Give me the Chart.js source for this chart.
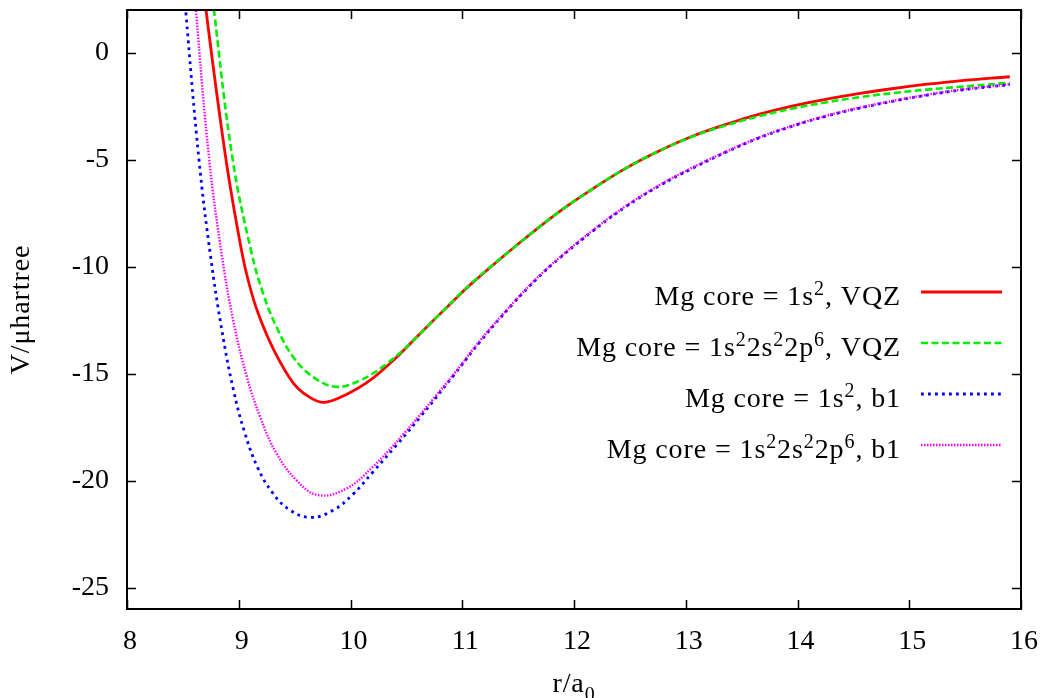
<!DOCTYPE html>
<html>
<head>
<meta charset="utf-8">
<script src="https://cdn.jsdelivr.net/npm/chart.js@4.4.1/dist/chart.umd.min.js"></script>
<style>
  body { margin: 0; background: #fff; }
</style>
</head>
<body>
<canvas id="potChart" width="1041" height="698"></canvas>
<script>
// Axis ticks
const xTicks = [8, 9, 10, 11, 12, 13, 14, 15, 16];
const yTicks = [0, -5, -10, -15, -20, -25];

// Mg core = 1s^2, VQZ
const rCore1Vqz = [8.657, 8.707, 8.886, 9.025, 9.09, 9.175, 9.31, 9.49, 9.64, 9.77, 9.96, 10.17, 10.41, 10.62, 10.92, 11.07, 11.5, 11.875, 12.17, 12.47, 12.77, 13.07, 13.37, 13.66, 13.96, 14.26, 14.56, 14.86, 15.16, 15.45, 15.9];
const vCore1Vqz = [4.5, 2.0, -5.0, -9.25, -10.75, -12.2, -13.85, -15.45, -16.12, -16.34, -15.98, -15.33, -14.24, -13.14, -11.6, -10.85, -8.94, -7.4, -6.35, -5.38, -4.57, -3.88, -3.33, -2.87, -2.48, -2.17, -1.9, -1.67, -1.47, -1.31, -1.12];

// Mg core = 1s^2 2s^2 2p^6, VQZ
const rCore2Vqz = [8.73, 8.778, 8.946, 9.11, 9.22, 9.34, 9.49, 9.67, 9.87, 10.08, 10.32, 10.56, 10.8, 11.07, 11.5, 11.875, 12.17, 12.47, 12.77, 13.07, 13.37, 13.66, 13.96, 14.26, 14.56, 14.86, 15.16, 15.45, 15.9];
const vCore2Vqz = [4.5, 2.0, -5.0, -9.25, -11.28, -12.84, -14.24, -15.17, -15.61, -15.33, -14.55, -13.46, -12.21, -10.83, -8.94, -7.4, -6.35, -5.38, -4.57, -3.9, -3.38, -2.96, -2.6, -2.31, -2.07, -1.88, -1.72, -1.59, -1.4];

// Mg core = 1s^2, b1
const rCore1B1 = [8.49, 8.525, 8.644, 8.75, 8.85, 8.95, 9.05, 9.17, 9.3, 9.45, 9.64, 9.84, 10.02, 10.2, 10.41, 10.62, 10.92, 11.16, 11.45, 11.7, 11.875, 12.17, 12.47, 12.77, 13.07, 13.37, 13.66, 13.96, 14.26, 14.56, 14.86, 15.16, 15.45, 15.9];
const vCore1B1 = [4.5, 2.0, -5.0, -9.6, -13.0, -15.7, -17.7, -19.4, -20.55, -21.35, -21.72, -21.4, -20.65, -19.6, -18.35, -17.05, -15.1, -13.5, -11.75, -10.4, -9.58, -8.32, -7.17, -6.2, -5.37, -4.62, -3.97, -3.42, -2.96, -2.58, -2.26, -1.98, -1.75, -1.49];

// Mg core = 1s^2 2s^2 2p^6, b1
const rCore2B1 = [8.585, 8.617, 8.736, 8.85, 8.95, 9.07, 9.19, 9.34, 9.52, 9.71, 9.96, 10.2, 10.47, 10.77, 10.95, 11.16, 11.45, 11.7, 11.875, 12.17, 12.47, 12.77, 13.07, 13.37, 13.66, 13.96, 14.26, 14.56, 14.86, 15.16, 15.45, 15.9];
const vCore2B1 = [4.5, 2.0, -5.0, -9.5, -12.5, -15.1, -17.0, -18.75, -20.0, -20.68, -20.38, -19.35, -17.85, -16.0, -14.85, -13.45, -11.72, -10.37, -9.55, -8.29, -7.14, -6.17, -5.34, -4.6, -3.95, -3.4, -2.94, -2.56, -2.24, -1.96, -1.73, -1.47];

// "^" raises and "_" lowers the next character
const seriesLabels = [
  'Mg core = 1s^2, VQZ',
  'Mg core = 1s^22s^22p^6, VQZ',
  'Mg core = 1s^2, b1',
  'Mg core = 1s^22s^22p^6, b1'
];
const xTitle = 'r/a_0';
const yTitle = 'V/\u03bchartree';

const FONT = '"Liberation Serif", "Times New Roman", serif';
const BIG = 28, SMALL = 20;

const styles = [
  { color: '#ff0000', width: 2.8, dash: [] },
  { color: '#00ee00', width: 2.6, dash: [7, 3.5] },
  { color: '#0000ff', width: 2.8, dash: [2.8, 4.2] },
  { color: '#ff00ff', width: 2.4, dash: [1.5, 1.5] }
];

function toPoints(xs, ys) {
  return xs.map((x, i) => ({ x: x, y: ys[i] }));
}

function parseRich(str) {
  const parts = [];
  let buf = '';
  for (let i = 0; i < str.length; i++) {
    const c = str[i];
    if ((c === '^' || c === '_') && i + 1 < str.length) {
      if (buf) parts.push({ text: buf, shift: 0 });
      parts.push({ text: str[i + 1], shift: c === '^' ? -10 : 9 });
      buf = '';
      i++;
    } else {
      buf += c;
    }
  }
  if (buf) parts.push({ text: buf, shift: 0 });
  return parts;
}

function drawRich(ctx, str, x, y, align) {
  const parts = parseRich(str);
  ctx.letterSpacing = '0.9px';
  const widths = parts.map(p => {
    ctx.font = (p.shift ? SMALL : BIG) + 'px ' + FONT;
    return ctx.measureText(p.text).width;
  });
  const total = widths.reduce((a, b) => a + b, 0);
  let cx = align === 'right' ? x - total : align === 'center' ? x - total / 2 : x;
  parts.forEach((p, i) => {
    ctx.font = (p.shift ? SMALL : BIG) + 'px ' + FONT;
    ctx.fillText(p.text, cx, y + p.shift);
    cx += widths[i];
  });
  ctx.letterSpacing = '0px';
}

// Frame, inward ticks on all sides, axis titles and the key
const framePlugin = {
  id: 'frame',
  afterDatasetsDraw(chart) {
    const ctx = chart.ctx;
    const a = chart.chartArea;
    const xs = chart.scales.x, ys = chart.scales.y;
    const tl = 9;
    ctx.save();
    ctx.strokeStyle = '#000';
    ctx.lineWidth = 1.5;
    ctx.beginPath();
    xTicks.forEach(v => {
      const px = Math.round(xs.getPixelForValue(v)) + 0.5;
      ctx.moveTo(px, a.bottom); ctx.lineTo(px, a.bottom - tl);
      ctx.moveTo(px, a.top); ctx.lineTo(px, a.top + tl);
    });
    yTicks.forEach(v => {
      const py = Math.round(ys.getPixelForValue(v)) + 0.5;
      ctx.moveTo(a.left, py); ctx.lineTo(a.left + tl, py);
      ctx.moveTo(a.right, py); ctx.lineTo(a.right - tl, py);
    });
    ctx.stroke();
    ctx.lineWidth = 2;
    ctx.strokeRect(a.left, a.top, a.right - a.left, a.bottom - a.top);

    // key
    ctx.fillStyle = '#000';
    ctx.textBaseline = 'alphabetic';
    ctx.textAlign = 'left';
    chart.data.datasets.forEach((ds, i) => {
      const rowY = a.top + 282 + i * 51;
      drawRich(ctx, seriesLabels[i], a.right - 120, rowY + 13, 'right');
      const st = styles[i];
      ctx.strokeStyle = st.color;
      ctx.lineWidth = st.width;
      ctx.setLineDash(st.dash);
      ctx.beginPath();
      ctx.moveTo(a.right - 100, rowY);
      ctx.lineTo(a.right - 19, rowY);
      ctx.stroke();
    });
    ctx.setLineDash([]);

    // axis titles
    drawRich(ctx, xTitle, (a.left + a.right) / 2, 692, 'center');
    ctx.translate(29, (a.top + a.bottom) / 2);
    ctx.rotate(-Math.PI / 2);
    drawRich(ctx, yTitle, 0, 0, 'center');
    ctx.restore();
  }
};

const seriesX = [rCore1Vqz, rCore2Vqz, rCore1B1, rCore2B1];
const seriesY = [vCore1Vqz, vCore2Vqz, vCore1B1, vCore2B1];

const datasets = seriesX.map((xs, i) => ({
  label: seriesLabels[i],
  data: toPoints(xs, seriesY[i]),
  borderColor: styles[i].color,
  borderWidth: styles[i].width,
  borderDash: styles[i].dash,
  pointRadius: 0,
  fill: false,
  tension: 0.4,
  clip: 0,
  order: 4 - i
}));

new Chart(document.getElementById('potChart'), {
  type: 'line',
  data: { datasets: datasets },
  options: {
    responsive: false,
    animation: false,
    events: [],
    layout: { padding: { left: 0, right: 20, top: 10, bottom: 0 } },
    plugins: { legend: { display: false }, tooltip: { enabled: false } },
    scales: {
      x: {
        type: 'linear',
        min: 8,
        max: 16,
        afterBuildTicks: s => { s.ticks = xTicks.map(v => ({ value: v })); },
        afterFit: s => { s.height = 89; s.paddingLeft = 0; s.paddingRight = 0; },
        grid: { display: false, drawTicks: false },
        border: { display: false },
        ticks: {
          color: '#000',
          font: { family: FONT, size: BIG },
          padding: 16,
          labelOffset: 3,
          maxRotation: 0,
          autoSkip: false
        }
      },
      y: {
        type: 'linear',
        min: -26,
        max: 2,
        afterBuildTicks: s => { s.ticks = yTicks.map(v => ({ value: v })); },
        afterFit: s => { s.width = 127; s.paddingTop = 0; s.paddingBottom = 0; },
        grid: { display: false, drawTicks: false },
        border: { display: false },
        ticks: {
          color: '#000',
          font: { family: FONT, size: BIG },
          padding: 18,
          autoSkip: false
        }
      }
    }
  },
  plugins: [framePlugin]
});
</script>
</body>
</html>
